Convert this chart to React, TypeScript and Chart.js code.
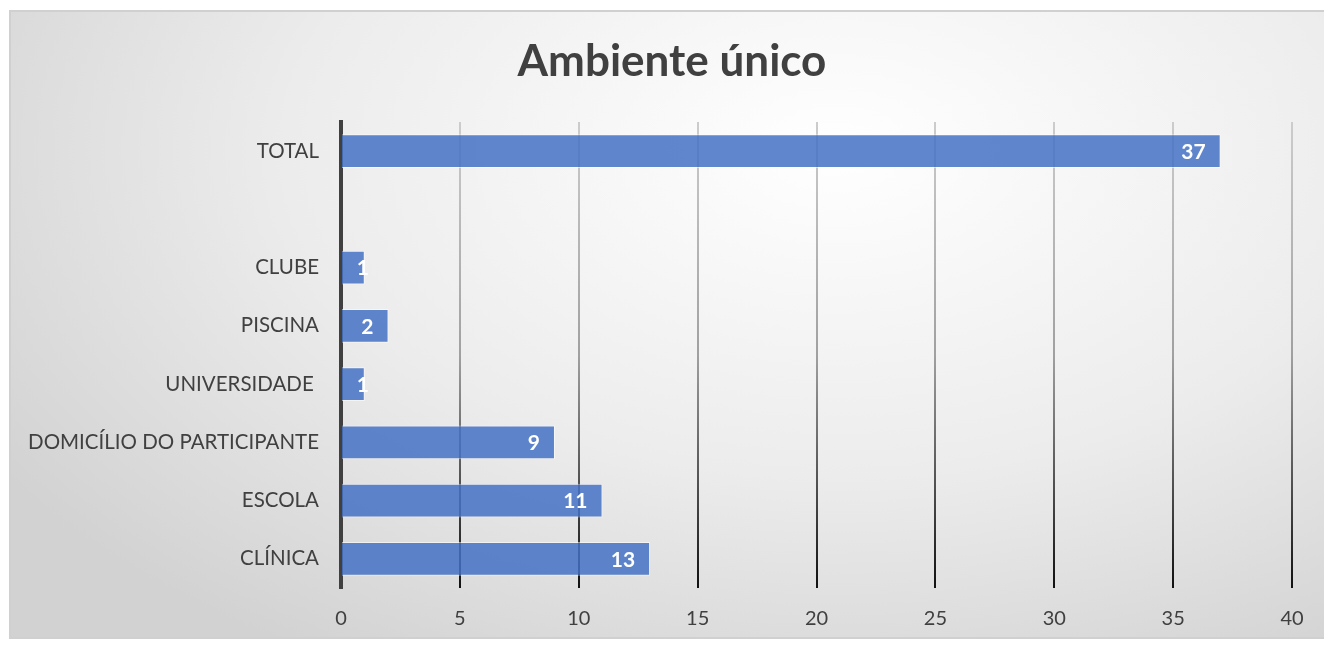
import React, { useEffect, useRef } from "react";
import { Chart, registerables } from "chart.js";

Chart.register(...registerables);

const categories: string[] = [
  "TOTAL",
  "",
  "CLUBE",
  "PISCINA",
  "UNIVERSIDADE ",
  "DOMICÍLIO DO PARTICIPANTE",
  "ESCOLA",
  "CLÍNICA",
];
const values: (number | null)[] = [37, null, 1, 2, 1, 9, 11, 13];
const xTicks: number[] = [0, 5, 10, 15, 20, 25, 30, 35, 40];
const titleText = "Ambiente único";

const FONT = "Lato, 'Open Sans', sans-serif";
const TEXT = "#404040";

const labelPlugin = {
  id: "insideEndLabels",
  afterDatasetsDraw(chart: any) {
    const ctx = chart.ctx;
    const meta = chart.getDatasetMeta(0);
    ctx.save();
    ctx.font = `bold 21px ${FONT}`;
    ctx.fillStyle = "#ffffff";
    ctx.textAlign = "center";
    ctx.textBaseline = "middle";
    meta.data.forEach((el: any, i: number) => {
      const v = values[i];
      if (v === null || v === undefined) return;
      const txt = String(v);
      const w = ctx.measureText(txt).width;
      const end = el.x;
      const base = el.base;
      let cx = end - 15 - w / 2;
      if (cx - w / 2 < base + 4) cx = end - 2;
      ctx.fillText(txt, cx, el.y + 1);
    });
    ctx.restore();
  },
};

const titlePlugin = {
  id: "centeredTitle",
  afterDraw(chart: any) {
    const ctx = chart.ctx;
    ctx.save();
    ctx.font = `bold 44px ${FONT}`;
    ctx.fillStyle = TEXT;
    ctx.textAlign = "center";
    ctx.textBaseline = "middle";
    ctx.fillText(titleText, 672, 62);
    ctx.restore();
  },
};

export default function App() {
  const ref = useRef<HTMLCanvasElement>(null);
  useEffect(() => {
    if (!ref.current) return;
    const chart = new Chart(ref.current, {
      type: "bar",
      data: {
        labels: categories,
        datasets: [
          {
            data: values as any,
            backgroundColor: "rgba(68,114,196,0.85)",
            borderColor: "rgba(255,255,255,0.55)",
            borderWidth: 1,
            barPercentage: 0.58,
            categoryPercentage: 1,
          },
        ],
      },
      options: {
        indexAxis: "y",
        animation: false,
        responsive: false,
        maintainAspectRatio: false,
        layout: { padding: { left: 0, right: 32, top: 122, bottom: 0 } },
        plugins: {
          legend: { display: false },
          tooltip: { enabled: false },
          title: { display: false },
        },
        scales: {
          x: {
            type: "linear",
            min: 0,
            max: 40,
            afterBuildTicks: (scale: any) => {
              scale.ticks = xTicks.map((v) => ({ value: v }));
            },
            afterFit: (scale: any) => {
              scale.height = 57;
            },
            border: { display: false },
            grid: {
              drawTicks: false,
              lineWidth: 2,
              color: (c: any) => {
                if (c.tick && c.tick.value === 0) return "rgba(0,0,0,0)";
                const ca = c.chart.chartArea;
                if (!ca) return "#888";
                const g = c.chart.ctx.createLinearGradient(0, ca.top, 0, ca.bottom);
                g.addColorStop(0, "#cccccc");
                g.addColorStop(0.5, "#a0a0a0");
                g.addColorStop(1, "#111111");
                return g;
              },
            },
            ticks: {
              padding: 19,
              color: TEXT,
              font: { family: FONT, size: 20 },
            },
          },
          y: {
            type: "category",
            afterFit: (scale: any) => {
              scale.width = 341;
            },
            border: { display: true, color: "#404040", width: 4 },
            grid: { display: false, drawTicks: false },
            ticks: {
              padding: 22,
              color: TEXT,
              font: { family: FONT, size: 20.5 },
              autoSkip: false,
            },
          },
        },
      },
      plugins: [labelPlugin, titlePlugin],
    } as any);
    return () => chart.destroy();
  }, []);

  return (
    <div
      style={{
        position: "fixed",
        left: 0,
        top: 0,
        width: 1324,
        height: 645,
        background: "#ffffff",
        overflow: "hidden",
      }}
    >
      <div
        style={{
          position: "absolute",
          left: 9,
          top: 10,
          width: 1330,
          height: 625,
          border: "2px solid #d0d0d0",
          background:
            "radial-gradient(ellipse 75% 95% at 62% 22%, #ffffff 0%, #ececec 55%, #d2d2d2 100%)",
        }}
      />
      <canvas
        ref={ref}
        width={1324}
        height={645}
        style={{ position: "absolute", left: 0, top: 0 }}
      />
    </div>
  );
}
